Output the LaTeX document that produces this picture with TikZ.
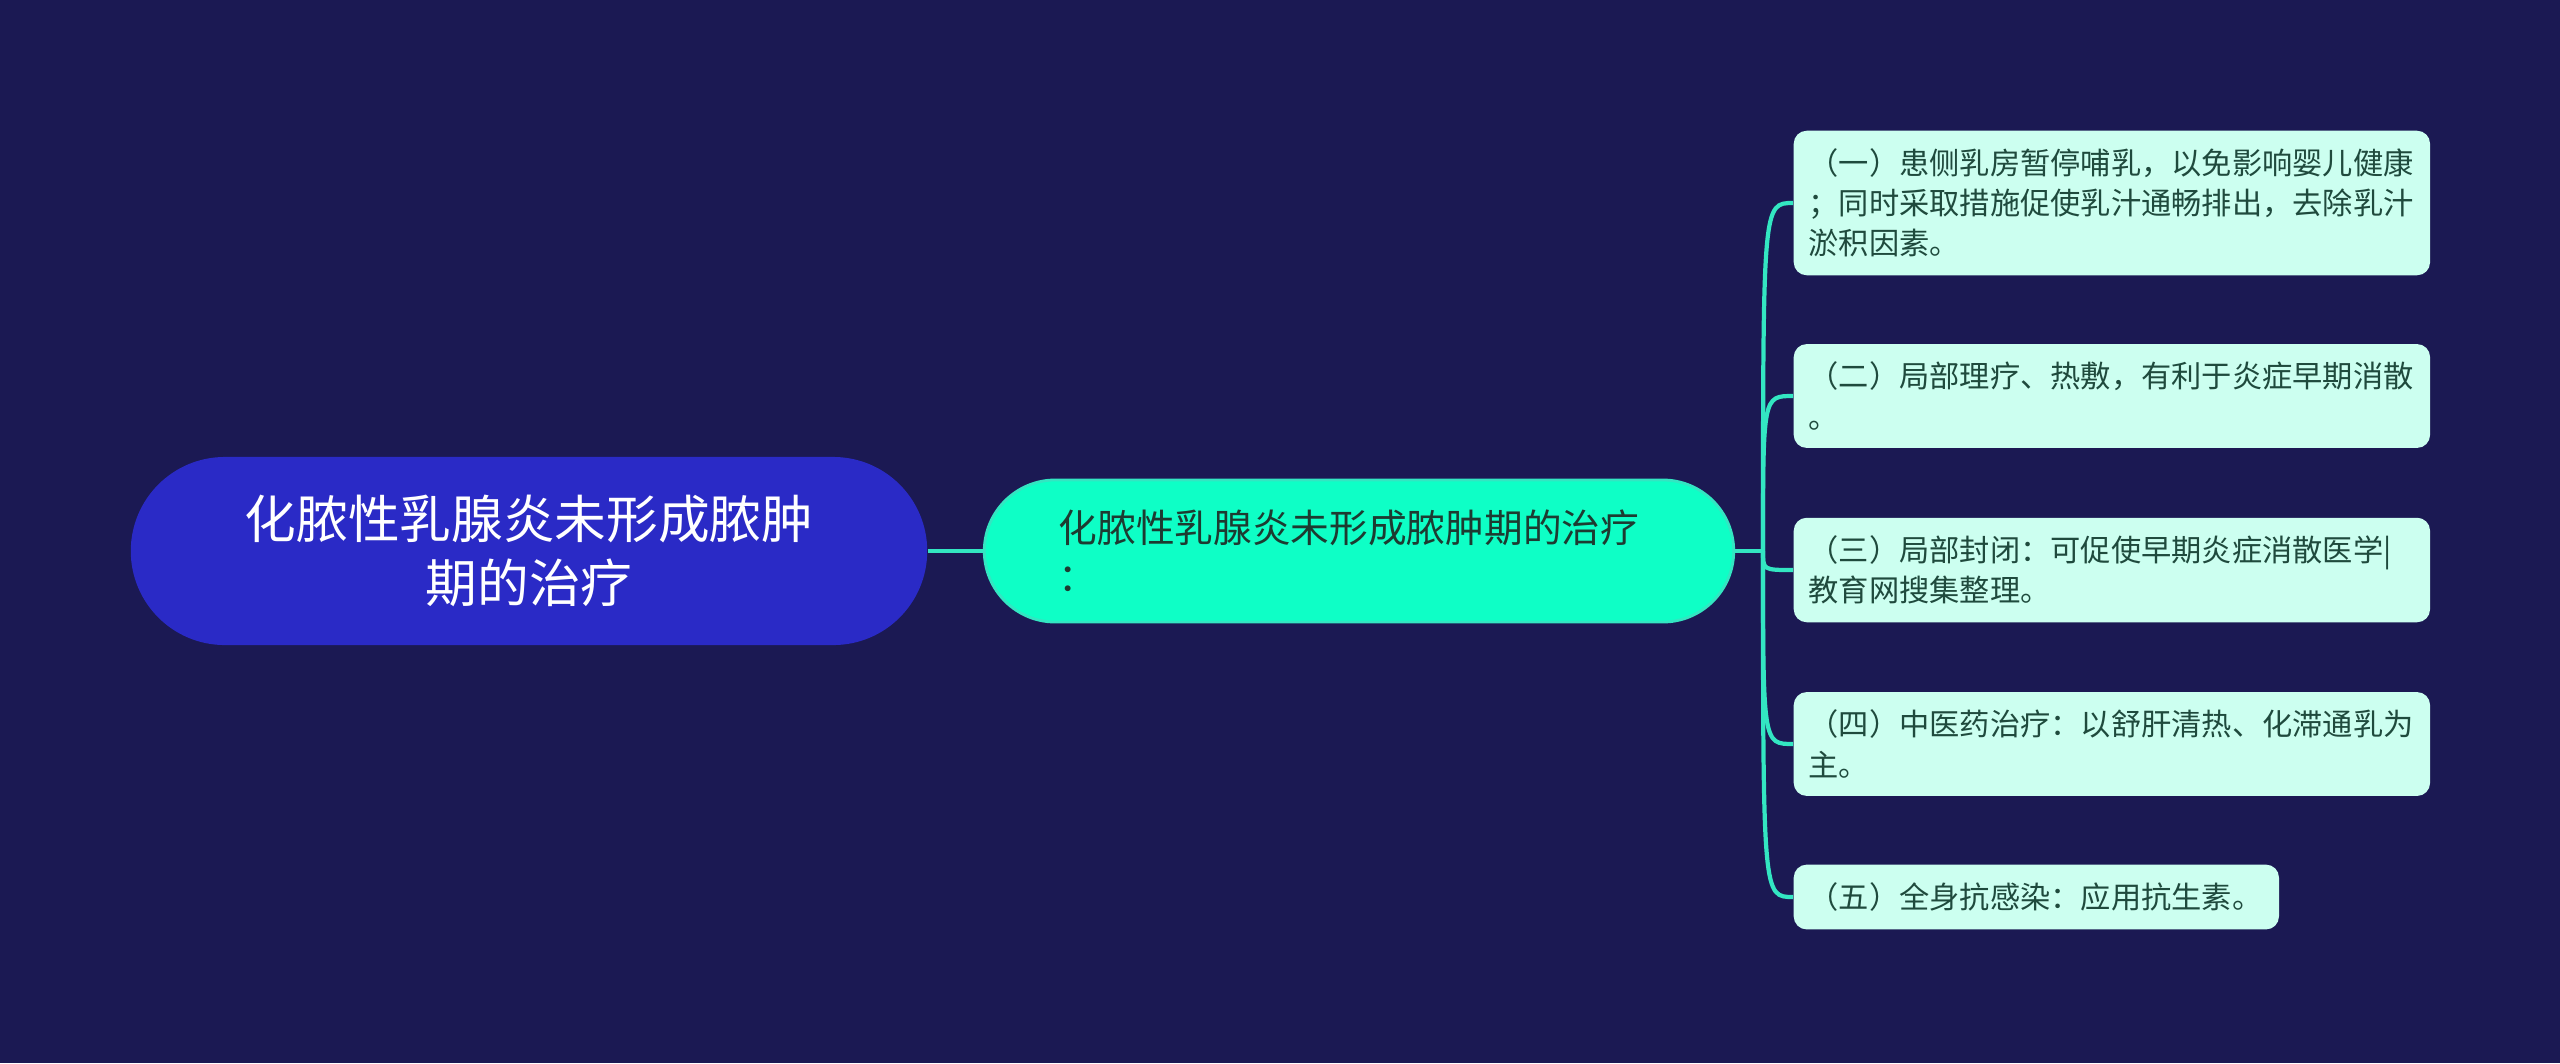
\documentclass[tikz,border=0pt]{standalone}
\usepackage{fontspec}
\setmainfont{Noto Sans CJK SC}
\usetikzlibrary{positioning}

\definecolor{bgnavy}{HTML}{1B1953}
\definecolor{rootblue}{HTML}{2A2AC6}
\definecolor{midaqua}{HTML}{0EFFC6}
\definecolor{linkaqua}{HTML}{33E6C2}
\definecolor{leafmint}{HTML}{CCFFF0}
\definecolor{leafink}{HTML}{1F4A3D}
\definecolor{midink}{HTML}{1D3B31}

\begin{document}
\begin{tikzpicture}[x=0.01cm,y=-0.01cm,
	rootbox/.style={fill=rootblue,text=white,align=center,
		minimum width=7.96cm,minimum height=1.88cm,rounded corners=0.94cm,
		font=\fontsize{14.7}{18}\selectfont},
	midbox/.style={fill=midaqua,draw=linkaqua,line width=0.8pt,text=midink,
		align=left,text width=6.0cm,inner xsep=0.745cm,
		minimum height=1.42cm,rounded corners=0.71cm,
		font=\fontsize{11}{13.9}\selectfont},
	leafbox/.style={fill=leafmint,text=leafink,align=left,anchor=west,
		text width=#1,inner xsep=0.15cm,inner ysep=0.18cm,rounded corners=0.13cm,
		font=\fontsize{8.6}{11.4}\selectfont},
	leafbox/.default=6.06cm,
	link/.style={draw=linkaqua,line width=1.2pt}]
	% background
	\fill[bgnavy] (0,0) rectangle (2560,1063);
	\useasboundingbox (0,0) rectangle (2560,1063);
	% root and main branch
	\node[rootbox] (root) at (529,551) {化脓性乳腺炎未形成脓肿\\期的治疗};
	\node[midbox] (mid) at (1359,551) {化脓性乳腺炎未形成脓肿期的治疗\\：};
	\draw[link] (root) -- (mid);
	% leaves
	\node[leafbox] (l1) at (1793,203) {（一）患侧乳房暂停哺乳，以免影响婴儿健康\\；同时采取措施促使乳汁通畅排出，去除乳汁\\淤积因素。};
	\node[leafbox] (l2) at (1793,396) {（二）局部理疗、热敷，有利于炎症早期消散\\。};
	\node[leafbox] (l3) at (1793,570) {（三）局部封闭：可促使早期炎症消散医学|\\教育网搜集整理。};
	\node[leafbox] (l4) at (1793,744) {（四）中医药治疗：以舒肝清热、化滞通乳为\\主。};
	\node[leafbox=4.55cm] (l5) at (1793,897) {（五）全身抗感染：应用抗生素。};
	% connectors
	\coordinate (hub) at (1763,551);
	\draw[link] (mid.east) -- (hub);
	\foreach \leaf in {l1,l2,l3,l4,l5}
		\draw[link] (hub) .. controls (hub |- \leaf.west) .. (\leaf.west);
\end{tikzpicture}
\end{document}
